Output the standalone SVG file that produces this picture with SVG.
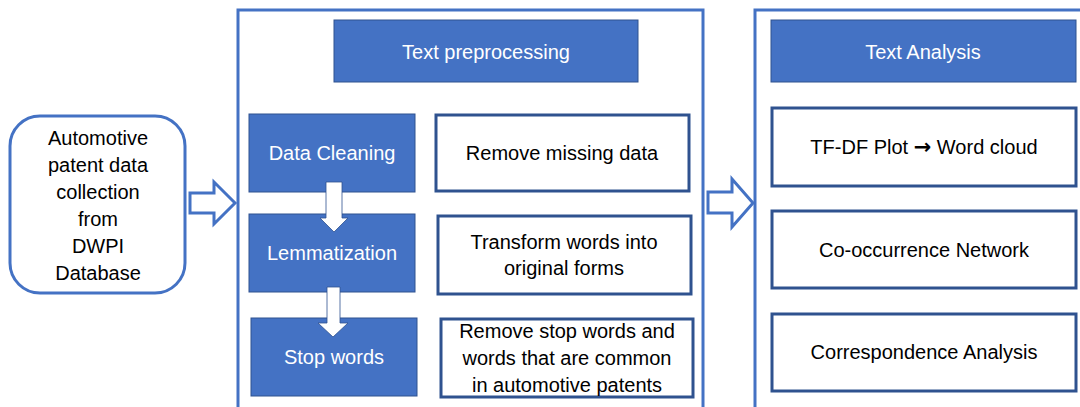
<svg xmlns="http://www.w3.org/2000/svg" width="1080" height="407" viewBox="0 0 1080 407">
<style>
.bg{fill:#fff}
.cont{fill:none;stroke:#4472C4;stroke-width:3}
.blue{fill:#4472C4;stroke:#2F528F;stroke-width:1}
.wbox{fill:#fff;stroke:#2F528F;stroke-width:3}
.src{fill:#fff;stroke:#4472C4;stroke-width:3}
.harrow{fill:#fff;stroke:#4472C4;stroke-width:3;stroke-linejoin:miter}
.darrow{fill:#fff;stroke:#2F528F;stroke-width:0.8}
text{font-family:"Liberation Sans",Arial,sans-serif;font-size:20px;text-anchor:middle}
.wt{fill:#fff}
.bt{fill:#000}
.arr{font-family:"DejaVu Sans",sans-serif;font-weight:bold;font-size:21px}
</style>
<rect class="bg" x="0" y="0" width="1080" height="407"/>
<g id="containers">
<rect id="preprocessing-panel" class="cont" x="238" y="10" width="465" height="410"/>
<rect id="analysis-panel" class="cont" x="755" y="10" width="340" height="410"/>
</g>
<g id="source">
<rect class="src" x="10" y="116" width="175" height="177" rx="30" ry="30"/>
<text class="bt" x="98" y="145">Automotive</text>
<text class="bt" x="98" y="172">patent data</text>
<text class="bt" x="98" y="199">collection</text>
<text class="bt" x="98" y="226">from</text>
<text class="bt" x="98" y="253">DWPI</text>
<text class="bt" x="98" y="280">Database</text>
</g>
<g id="text-preprocessing">
<rect class="blue" x="334" y="20" width="304" height="62"/>
<text class="wt" x="486" y="59">Text preprocessing</text>
</g>
<g id="data-cleaning">
<rect class="blue" x="249" y="114" width="166" height="78"/>
<text class="wt" x="332" y="160">Data Cleaning</text>
</g>
<g id="remove-missing">
<rect class="wbox" x="436" y="115" width="253" height="76"/>
<text class="bt" x="562" y="160">Remove missing data</text>
</g>
<g id="lemmatization">
<rect class="blue" x="249" y="214" width="166" height="78"/>
<text class="wt" x="332" y="260">Lemmatization</text>
</g>
<g id="transform">
<rect class="wbox" x="438" y="216" width="253" height="78"/>
<text class="bt" x="564" y="249">Transform words into</text>
<text class="bt" x="564" y="275">original forms</text>
</g>
<g id="stop-words">
<rect class="blue" x="251" y="318" width="166" height="78"/>
<text class="wt" x="334" y="364">Stop words</text>
</g>
<g id="remove-stop">
<rect class="wbox" x="441" y="319" width="252" height="78"/>
<text class="bt" x="567" y="338">Remove stop words and</text>
<text class="bt" x="567" y="365">words that are common</text>
<text class="bt" x="567" y="392">in automotive patents</text>
</g>
<g id="text-analysis">
<rect class="blue" x="771" y="20" width="305" height="62"/>
<text class="wt" x="923" y="59">Text Analysis</text>
</g>
<g id="tfdf">
<rect class="wbox" x="772" y="108" width="304" height="78"/>
<text class="bt" x="924" y="154">TF-DF Plot <tspan class="arr">→</tspan> Word cloud</text>
</g>
<g id="cooccurrence">
<rect class="wbox" x="772" y="211" width="304" height="77"/>
<text class="bt" x="924" y="257">Co-occurrence Network</text>
</g>
<g id="correspondence">
<rect class="wbox" x="772" y="314" width="304" height="77"/>
<text class="bt" x="924" y="359">Correspondence Analysis</text>
</g>
<g id="connectors">
<polygon class="harrow" points="190,193 214,193 214,182 235,203 214,224 214,213 190,213"/>
<polygon class="harrow" points="708,192 732,192 732,179 753,203 732,227 732,213 708,213"/>
<polygon class="darrow" points="326,182 342,182 342,218 348,218 334,232 320,218 326,218"/>
<polygon class="darrow" points="327,287 340,287 340,323 348,323 333,337 318,323 327,323"/>
</g>
</svg>
